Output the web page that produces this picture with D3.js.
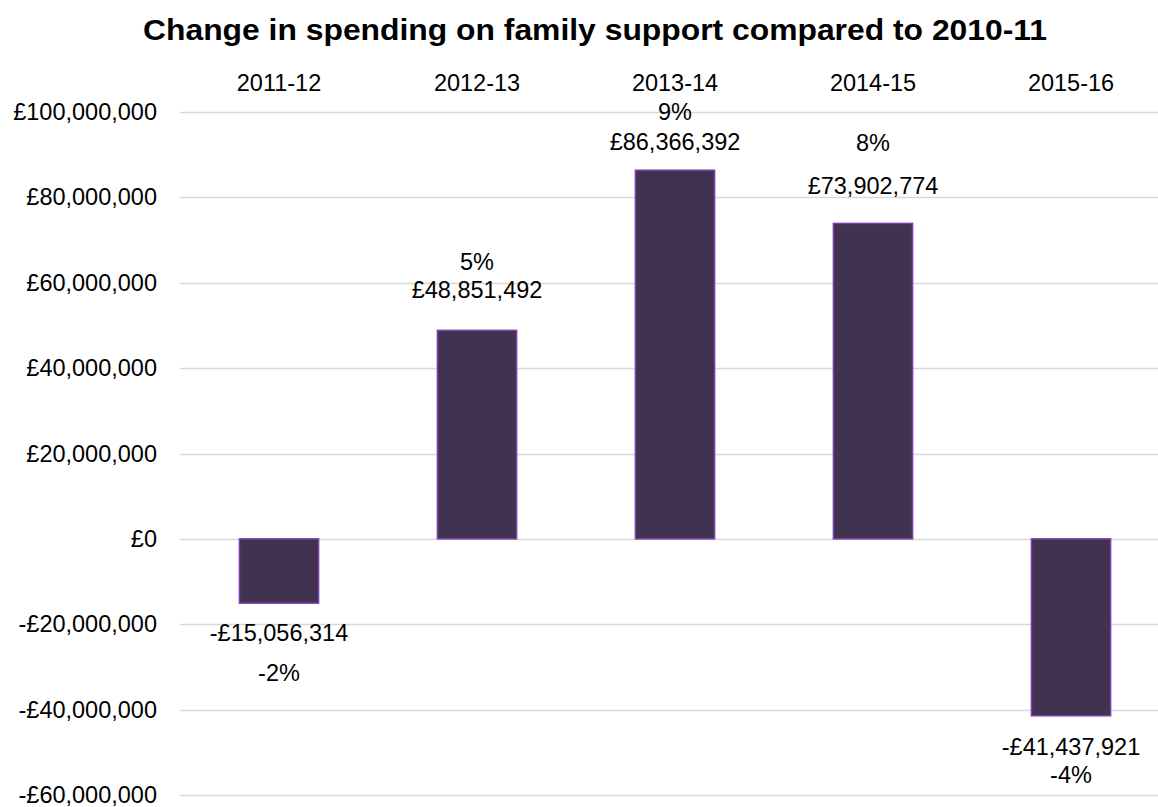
<!DOCTYPE html>
<html>
<head>
<meta charset="utf-8">
<script src="https://cdn.jsdelivr.net/npm/d3@7"></script>
<style>
  html, body { margin: 0; padding: 0; background: #ffffff; }
  svg { display: block; font-family: "Liberation Sans", Arial, sans-serif; }
</style>
</head>
<body>
<svg id="chart" width="1158" height="807"></svg>
<script>
// Financial years, compared against the 2010-11 baseline
const years = ["2011-12", "2012-13", "2013-14", "2014-15", "2015-16"];
// Change in spending (£) relative to 2010-11
const changeValues = [-15056314, 48851492, 86366392, 73902774, -41437921];
// Percentage change relative to 2010-11
const changePercent = [-2, 5, 9, 8, -4];
// Y axis ticks
const yTicks = [-60000000, -40000000, -20000000, 0, 20000000, 40000000, 60000000, 80000000, 100000000];

// Label placement (px): value label baseline distance from the bar end,
// and percentage label baseline relative to the value label
const valueLabelGap = [38, 32, 20, 29, 39];
const pctLabelShift = [40, -28, -30, -43, 28];

const svg = d3.select("#chart");
const W = 1158, H = 807;
const margin = { left: 180, right: 0, top: 112, bottom: 12 };
const labelSize = 23.5;

const x = d3.scaleBand()
  .domain(years)
  .range([margin.left, margin.left + 5 * 198])
  .paddingInner(0.6)
  .paddingOuter(0.3);

const y = d3.scaleLinear()
  .domain([-60000000, 100000000])
  .range([H - margin.bottom, margin.top]);

const money = v => (v < 0 ? "-£" : "£") + d3.format(",")(Math.abs(v));

// Title
svg.append("text")
  .attr("x", 595)
  .attr("y", 40)
  .attr("text-anchor", "middle")
  .attr("font-size", 29)
  .attr("font-weight", "bold")
  .attr("textLength", 904)
  .attr("lengthAdjust", "spacingAndGlyphs")
  .attr("fill", "#000")
  .text("Change in spending on family support compared to 2010-11");

// Gridlines
svg.append("g")
  .selectAll("line")
  .data(yTicks)
  .join("line")
  .attr("x1", margin.left)
  .attr("x2", W)
  .attr("y1", d => Math.round(y(d)) + 0.5)
  .attr("y2", d => Math.round(y(d)) + 0.5)
  .attr("stroke", "#d9d9d9")
  .attr("stroke-width", 1.5);

// Y axis labels
const yAxis = d3.axisLeft(y)
  .tickValues(yTicks)
  .tickFormat(d => d === 0 ? "£0" : money(d))
  .tickSize(0)
  .tickPadding(0);

const gy = svg.append("g")
  .attr("transform", `translate(157,0)`)
  .call(yAxis);
gy.select(".domain").remove();
gy.selectAll("text")
  .attr("font-size", labelSize)
  .attr("font-family", "Liberation Sans, Arial, sans-serif")
  .attr("fill", "#000");

// Category labels along the top
const xAxis = d3.axisTop(x).tickSize(0).tickPadding(0);
const gx = svg.append("g")
  .attr("transform", `translate(0,91)`)
  .call(xAxis);
gx.select(".domain").remove();
gx.selectAll("text")
  .attr("font-size", labelSize)
  .attr("font-family", "Liberation Sans, Arial, sans-serif")
  .attr("dy", 0)
  .attr("fill", "#000");

// Bars
const rows = years.map((yr, i) => ({ yr, v: changeValues[i], p: changePercent[i], i }));

svg.append("g")
  .selectAll("rect")
  .data(rows)
  .join("rect")
  .attr("x", d => x(d.yr))
  .attr("width", x.bandwidth())
  .attr("y", d => y(Math.max(0, d.v)))
  .attr("height", d => Math.abs(y(d.v) - y(0)))
  .attr("fill", "#413350")
  .attr("stroke", "#7a3fb0")
  .attr("stroke-width", 1.5);

// Value and percentage labels
const labels = svg.append("g")
  .attr("font-size", labelSize)
  .attr("text-anchor", "middle")
  .attr("fill", "#000");

const valueY = d => d.v >= 0 ? y(d.v) - valueLabelGap[d.i] : y(d.v) + valueLabelGap[d.i];

labels.selectAll("text.val")
  .data(rows)
  .join("text")
  .attr("class", "val")
  .attr("x", d => x(d.yr) + x.bandwidth() / 2)
  .attr("y", valueY)
  .text(d => money(d.v));

labels.selectAll("text.pct")
  .data(rows)
  .join("text")
  .attr("class", "pct")
  .attr("x", d => x(d.yr) + x.bandwidth() / 2)
  .attr("y", d => valueY(d) + pctLabelShift[d.i])
  .text(d => d.p + "%");
</script>
</body>
</html>
